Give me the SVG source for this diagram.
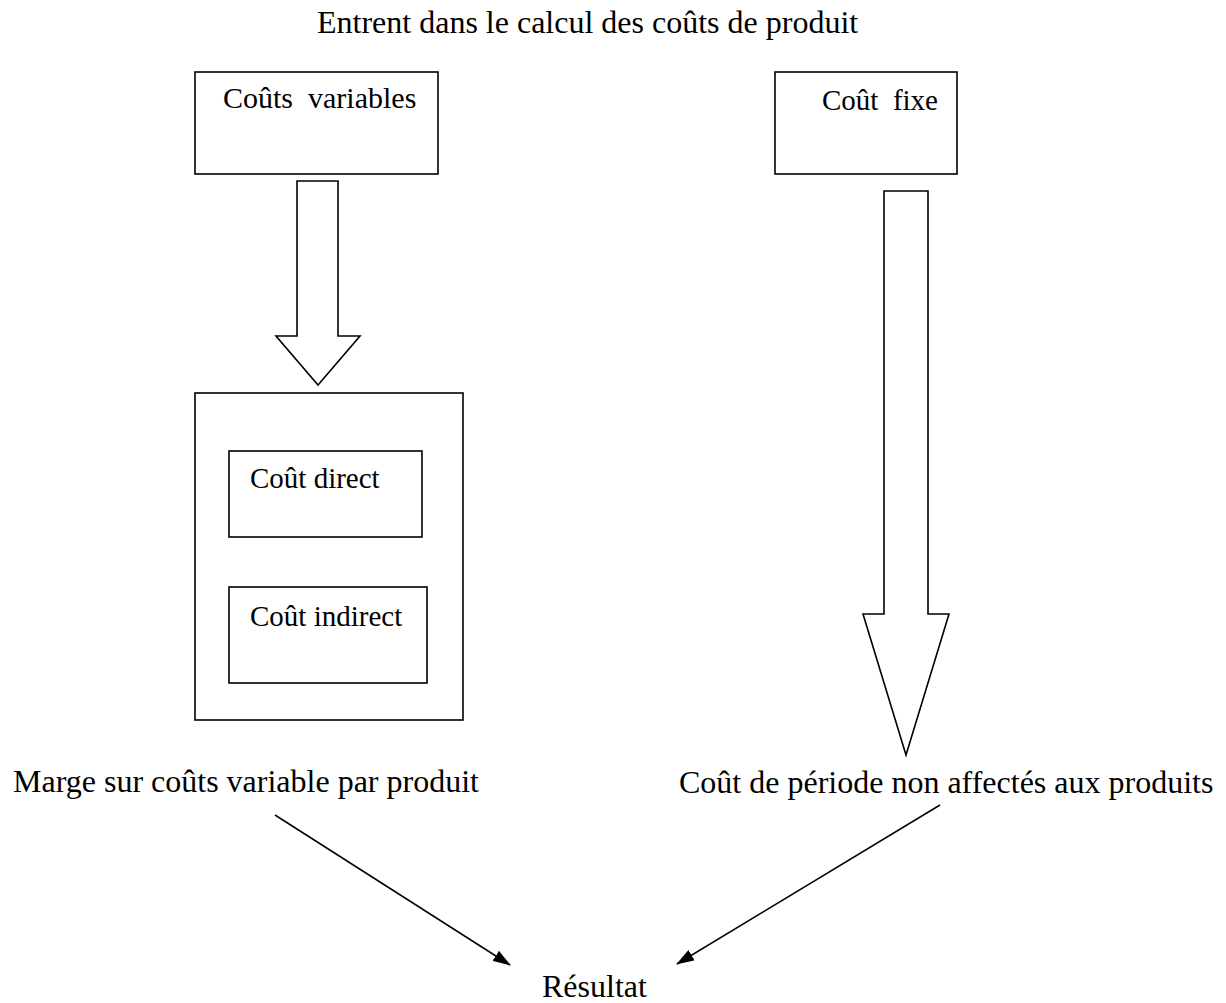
<svg xmlns="http://www.w3.org/2000/svg" width="1226" height="1003" viewBox="0 0 1226 1003">
<style>
.t{font-family:"Liberation Serif","Times New Roman",serif;fill:#000;white-space:pre}
.big{font-size:32px}
.box{fill:#fff;stroke:#000;stroke-width:1.6}
.ln{fill:none;stroke:#000;stroke-width:1.5}
</style>
<defs>
<marker id="ah" markerWidth="18" markerHeight="12" refX="17" refY="6" orient="auto" markerUnits="userSpaceOnUse">
<path d="M0,0 L18,6 L0,12 Z" fill="#000"/>
</marker>
</defs>
<rect width="1226" height="1003" fill="#fff"/>
<g id="title"><text class="t big" x="317" y="33">Entrent dans le calcul des coûts de produit</text></g>
<g id="couts-variables">
<rect class="box" x="195" y="72" width="243" height="102"/>
<text class="t" x="223" y="108" font-size="30" xml:space="preserve">Coûts  variables</text>
</g>
<g id="cout-fixe">
<rect class="box" x="775" y="72" width="182" height="102"/>
<text class="t" x="822" y="110" font-size="29" xml:space="preserve">Coût  fixe</text>
</g>
<g id="bloc-variables">
<rect class="box" x="195" y="393" width="268" height="327"/>
</g>
<g id="cout-direct">
<rect class="box" x="229" y="451" width="193" height="86"/>
<text class="t" x="250" y="488" font-size="29">Coût direct</text>
</g>
<g id="cout-indirect">
<rect class="box" x="229" y="587" width="198" height="96"/>
<text class="t" x="250" y="626" font-size="29">Coût indirect</text>
</g>
<g id="marge"><text class="t big" x="13" y="792">Marge sur coûts variable par produit</text></g>
<g id="cout-periode"><text class="t big" x="679" y="793">Coût de période non affectés aux produits</text></g>
<g id="resultat"><text class="t big" x="542" y="997">Résultat</text></g>
<g id="connectors">
<path class="box" d="M297,181 L338,181 L338,336 L360,336 L318,385 L276,336 L297,336 Z"/>
<path class="box" d="M884,191 L928,191 L928,614 L949,614 L906,755 L863,614 L884,614 Z"/>
<line class="ln" x1="275" y1="815" x2="510" y2="965" marker-end="url(#ah)"/>
<line class="ln" x1="940" y1="805" x2="677" y2="964" marker-end="url(#ah)"/>
</g>
</svg>
